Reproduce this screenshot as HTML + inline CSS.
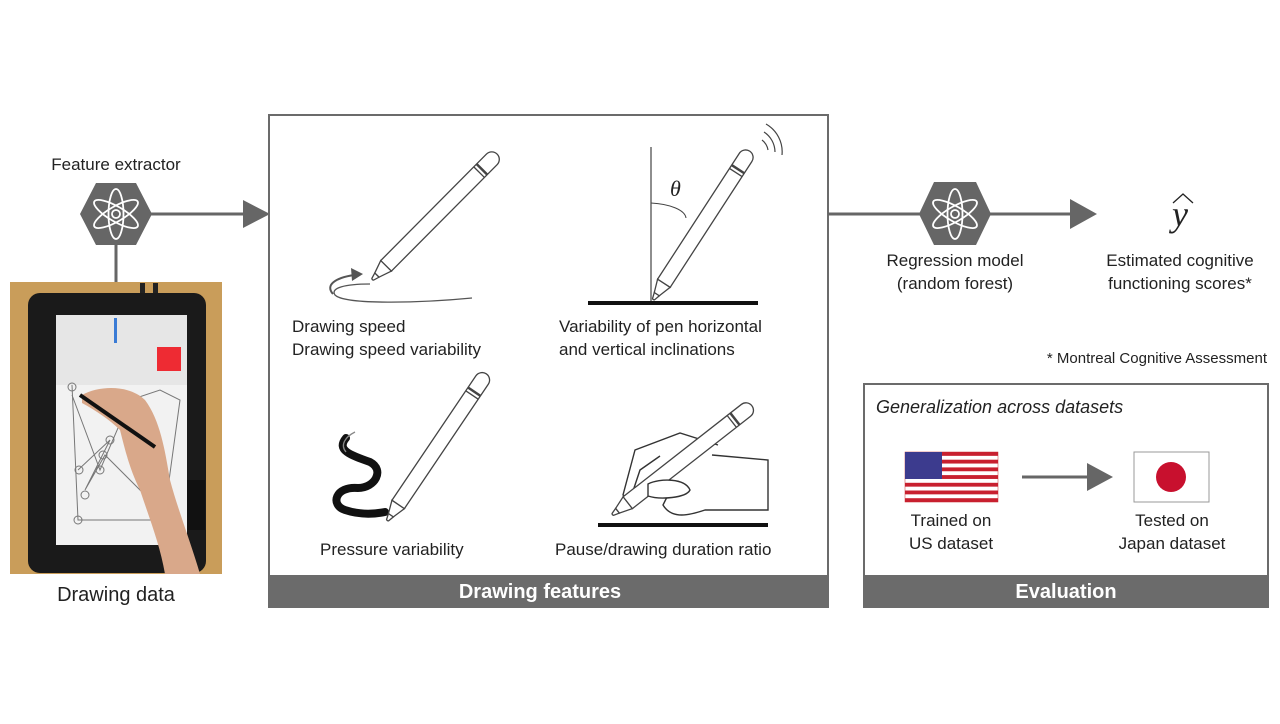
<!DOCTYPE html>
<html><head><meta charset="utf-8"><style>
html,body{margin:0;padding:0;background:#fff;}
svg{display:block;}
text{font-family:"Liberation Sans",Arial,sans-serif;fill:#222;}
</style></head><body>
<svg width="1280" height="724" viewBox="0 0 1280 724" xmlns="http://www.w3.org/2000/svg">
<defs>
  <g id="atom" fill="none" stroke="#fff" stroke-width="1.8">
    <ellipse cx="0" cy="0" rx="7.5" ry="25"/>
    <ellipse cx="0" cy="0" rx="7.5" ry="25" transform="rotate(60)"/>
    <ellipse cx="0" cy="0" rx="7.5" ry="25" transform="rotate(-60)"/>
    <circle cx="0" cy="0" r="4"/>
  </g>
  <g id="pen" fill="#fff" stroke="#444" stroke-width="1.3">
    <path d="M1,-1.2 Q0,0 1,1.2 L7,3 L7,-3 Z"/>
    <path d="M7,-3 L20,-7.5 L20,7.5 L7,3 Z"/>
    <path d="M20,-7.5 L170,-7.5 A7.5,7.5 0 0 1 170,7.5 L20,7.5 Z"/>
    <line x1="152" y1="-7.5" x2="152" y2="7.5"/>
    <line x1="156" y1="-7.5" x2="156" y2="7.5" stroke-width="2.5"/>
  </g>
</defs>

<!-- Feature extractor -->
<text x="116" y="170" font-size="17" text-anchor="middle">Feature extractor</text>
<line x1="116" y1="245" x2="116" y2="283" stroke="#666" stroke-width="3"/>
<line x1="150" y1="214" x2="246" y2="214" stroke="#666" stroke-width="3"/>
<polygon points="243,200 270,214 243,228" fill="#666"/>
<polygon points="96,183 136,183 152,214 136,245 96,245 80,214" fill="#666"/>
<use href="#atom" x="116" y="214"/>

<!-- photo -->
<rect x="10" y="282" width="212" height="292" fill="#c99d5a"/>
<rect x="140" y="283" width="5" height="12" fill="#222"/><rect x="153" y="283" width="5" height="12" fill="#222"/>
<rect x="28" y="293" width="178" height="280" rx="12" fill="#1a1a1a"/>
<rect x="56" y="315" width="131" height="230" fill="#f2f2f2"/>
<rect x="56" y="315" width="131" height="70" fill="#e6e6e6"/>
<rect x="114" y="318" width="3" height="25" fill="#3a7bd5"/>
<rect x="157" y="347" width="24" height="24" fill="#ee2b33"/>
<rect x="187" y="480" width="18" height="50" fill="#111"/>
<g stroke="#777" stroke-width="1" fill="none">
<path d="M72,385 L78,520 L155,520 M72,395 L100,470 L130,400 L160,390 L180,400 L165,510 M78,470 L110,440 L85,490 L105,455 L150,500"/>
<circle cx="72" cy="387" r="4"/><circle cx="79" cy="470" r="4"/><circle cx="85" cy="495" r="4"/><circle cx="100" cy="470" r="4"/><circle cx="110" cy="440" r="4"/><circle cx="78" cy="520" r="4"/><circle cx="103" cy="455" r="4"/>
</g>
<path d="M82,395 C100,385 130,385 145,400 C160,420 165,450 170,480 C178,510 190,540 200,574 L165,574 C160,545 150,520 140,490 C130,470 125,450 120,430 C110,420 95,410 82,403 Z" fill="#d9a88a"/>
<line x1="80" y1="395" x2="155" y2="447" stroke="#111" stroke-width="4"/>
<text x="116" y="601" font-size="20" text-anchor="middle">Drawing data</text>

<!-- Drawing features box -->
<rect x="269" y="115" width="559" height="492" fill="#fff" stroke="#6b6b6b" stroke-width="2"/>
<rect x="269" y="575" width="559" height="32" fill="#6b6b6b"/>
<text x="540" y="598" font-size="20" font-weight="bold" text-anchor="middle" style="fill:#fff">Drawing features</text>

<!-- Pen 1 -->
<path d="M370,284 C345,284 330,288 335,295 C345,305 420,303 472,298" fill="none" stroke="#555" stroke-width="1.3"/>
<path d="M333,294 C325,285 335,278 354,275" fill="none" stroke="#555" stroke-width="2"/>
<polygon points="351,268 363,274 352,281" fill="#555"/>
<use href="#pen" transform="translate(372,280) rotate(-45.2)"/>
<text x="292" y="332" font-size="17">Drawing speed</text>
<text x="292" y="355" font-size="17">Drawing speed variability</text>

<!-- Pen 2 -->
<line x1="651" y1="147" x2="651" y2="301" stroke="#444" stroke-width="1.2"/>
<line x1="588" y1="303" x2="758" y2="303" stroke="#111" stroke-width="4"/>
<path d="M651,203 C670,204 685,210 686,218" fill="none" stroke="#444" stroke-width="1"/>
<text x="670" y="196" font-size="22" style="font-family:'Liberation Serif',serif;font-style:italic">θ</text>
<path d="M762,140 A16,16 0 0 1 768,150" fill="none" stroke="#444" stroke-width="1.2"/>
<path d="M764,132 A24,24 0 0 1 775,152" fill="none" stroke="#444" stroke-width="1.2"/>
<path d="M766,124 A32,32 0 0 1 782,155" fill="none" stroke="#444" stroke-width="1.2"/>
<use href="#pen" transform="translate(653,300) rotate(-57)"/>
<text x="559" y="332" font-size="17">Variability of pen horizontal</text>
<text x="559" y="355" font-size="17">and vertical inclinations</text>

<!-- Pen 3 -->
<path d="M346,438 C336,450 350,455 370,462 C385,470 375,488 358,488 C335,486 330,505 345,510 C360,515 375,514 385,512" fill="none" stroke="#111" stroke-width="8" stroke-linecap="round"/>
<path d="M355,432 C345,437 340,445 346,452" fill="none" stroke="#888" stroke-width="1.3"/>
<use href="#pen" transform="translate(387,521) rotate(-56)"/>
<text x="320" y="555" font-size="17">Pressure variability</text>

<!-- Pen 4 -->
<line x1="598" y1="525" x2="768" y2="525" stroke="#111" stroke-width="4"/>
<path d="M718,445 L680,433 L635,450 L623,495 L630,500 L640,470 L660,456 M712,455 L768,460 L768,510 L705,510 C690,515 672,520 663,505 L668,495" fill="#fff" stroke="#333" stroke-width="1.4"/>
<use href="#pen" transform="translate(612,515) rotate(-38)"/>
<path d="M648,484 C660,478 685,478 690,490 C686,498 660,500 648,496 Z" fill="#fff" stroke="#333" stroke-width="1.4"/>
<text x="555" y="555" font-size="17">Pause/drawing duration ratio</text>

<!-- Regression -->
<line x1="828" y1="214" x2="1072" y2="214" stroke="#666" stroke-width="3"/>
<polygon points="1070,199 1097,214 1070,229" fill="#666"/>
<polygon points="934,182 976,182 991,214 976,245 934,245 919,214" fill="#666"/>
<use href="#atom" x="955" y="214"/>
<text x="955" y="266" font-size="17" text-anchor="middle">Regression model</text>
<text x="955" y="289" font-size="17" text-anchor="middle">(random forest)</text>
<text x="1180" y="226" font-size="36" text-anchor="middle" style="font-family:'Liberation Serif',serif;font-style:italic">y</text>
<path d="M1173,203 L1183,194 L1193,203" fill="none" stroke="#222" stroke-width="1.3"/>
<text x="1180" y="266" font-size="17" text-anchor="middle">Estimated cognitive</text>
<text x="1180" y="289" font-size="17" text-anchor="middle">functioning scores*</text>
<text x="1267" y="363" font-size="15" text-anchor="end">* Montreal Cognitive Assessment</text>

<!-- Evaluation -->
<rect x="864" y="384" width="404" height="223" fill="#fff" stroke="#6b6b6b" stroke-width="2"/>
<rect x="864" y="575" width="404" height="32" fill="#6b6b6b"/>
<text x="1066" y="598" font-size="20" font-weight="bold" text-anchor="middle" style="fill:#fff">Evaluation</text>
<text x="876" y="413" font-size="18" font-style="italic">Generalization across datasets</text>
<g>
  <rect x="905" y="452" width="93" height="50" fill="#fff" stroke="#c33" stroke-width="0.5"/>
  <g fill="#c8202f">
    <rect x="905" y="452" width="93" height="3.85"/><rect x="905" y="459.7" width="93" height="3.85"/><rect x="905" y="467.4" width="93" height="3.85"/><rect x="905" y="475.1" width="93" height="3.85"/><rect x="905" y="482.8" width="93" height="3.85"/><rect x="905" y="490.5" width="93" height="3.85"/><rect x="905" y="498.2" width="93" height="3.85"/>
  </g>
  <rect x="905" y="452" width="37" height="27" fill="#3c3b8e"/>
</g>
<line x1="1022" y1="477" x2="1090" y2="477" stroke="#666" stroke-width="3"/>
<polygon points="1087,463 1113,477 1087,491" fill="#666"/>
<rect x="1134" y="452" width="75" height="50" fill="#fff" stroke="#999" stroke-width="1"/>
<circle cx="1171" cy="477" r="15" fill="#c8102e"/>
<text x="951" y="526" font-size="17" text-anchor="middle">Trained on</text>
<text x="951" y="549" font-size="17" text-anchor="middle">US dataset</text>
<text x="1172" y="526" font-size="17" text-anchor="middle">Tested on</text>
<text x="1172" y="549" font-size="17" text-anchor="middle">Japan dataset</text>
</svg>
</body></html>
